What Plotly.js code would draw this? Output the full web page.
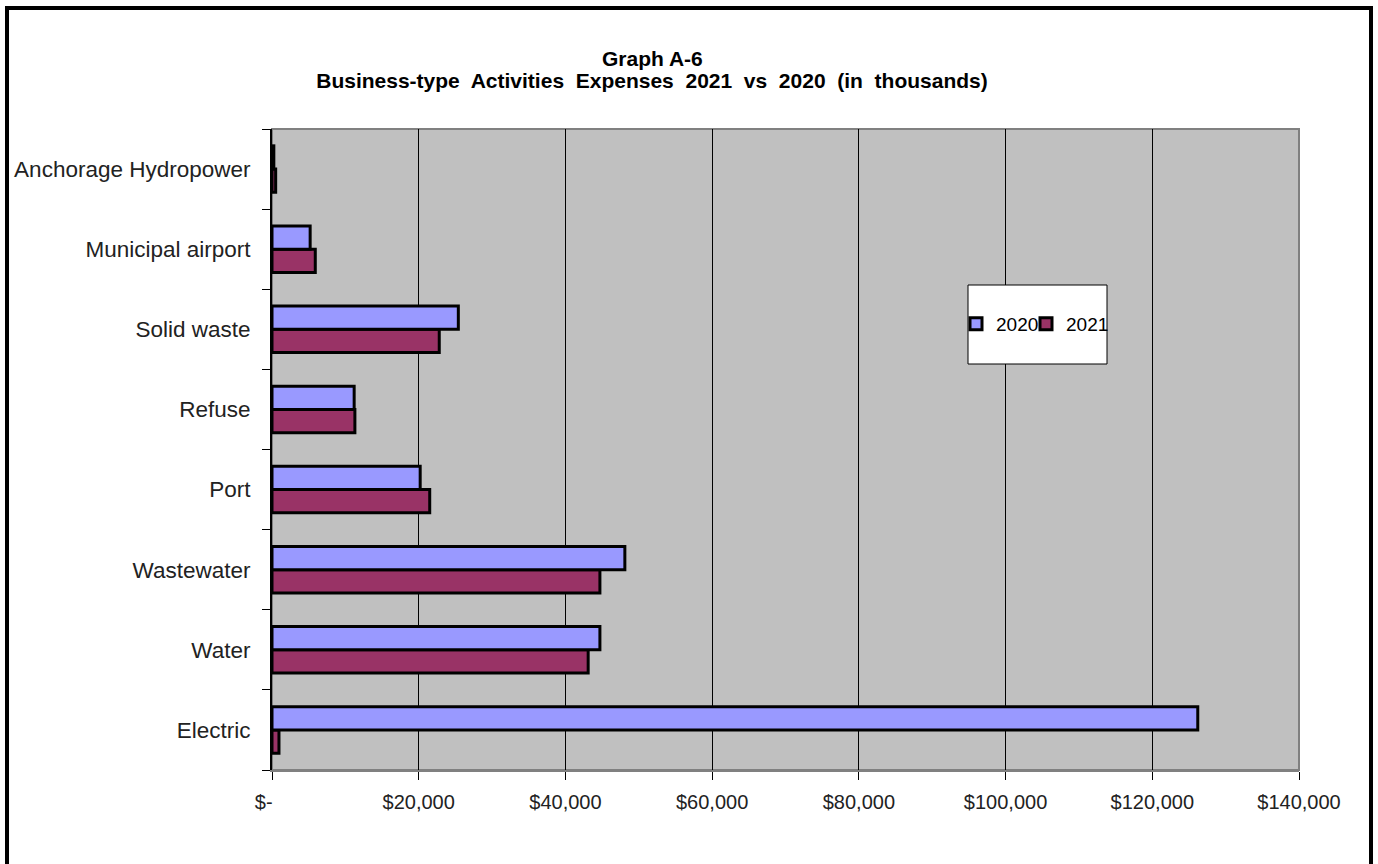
<!DOCTYPE html>
<html>
<head>
<meta charset="utf-8">
<script src="https://cdn.plot.ly/plotly-3.0.1.min.js"></script>
<style>html,body{margin:0;padding:0;background:#fff;}#chart{width:1378px;height:864px;}</style>
</head>
<body>
<div id="chart"></div>
<script>
const categories = ["Electric", "Water", "Wastewater", "Port", "Refuse", "Solid waste", "Municipal airport", "Anchorage Hydropower"];
const values2020 = [126200, 44700, 48100, 20200, 11200, 25400, 5200, 250];
const values2021 = [950, 43100, 44700, 21500, 11300, 22800, 5900, 500];
const tickValues = [0, 20000, 40000, 60000, 80000, 100000, 120000, 140000];
const tickLabels = ["$-\u00a0\u00a0\u00a0", "$20,000", "$40,000", "$60,000", "$80,000", "$100,000", "$120,000", "$140,000"];
const titleLine1 = "Graph A-6";
const titleLine2 = "Business-type  Activities  Expenses  2021  vs  2020  (in  thousands)";

const W = 1378, H = 864;
const L = 272, R = 1299, T = 129, B = 770;
const px = x => (x - L) / (R - L);
const py = y => (B - y) / (B - T);

const font = "Liberation Sans, Arial, sans-serif";

const traces = [
  {
    type: "bar", orientation: "h", name: "2021",
    y: categories, x: values2021,
    marker: {color: "#993366", line: {color: "#000000", width: 3}},
    legend: "legend2"
  },
  {
    type: "bar", orientation: "h", name: "2020",
    y: categories, x: values2020,
    marker: {color: "#9999FF", line: {color: "#000000", width: 3}},
    legend: "legend"
  }
];

const frame = {type: "line", xref: "paper", yref: "paper", line: {color: "#000", width: 4}, layer: "above"};
const legendBase = {
  orientation: "h", xanchor: "left", yanchor: "middle", y: py(324),
  bgcolor: "rgba(0,0,0,0)", borderwidth: 0,
  font: {family: font, size: 19, color: "#000"},
  itemwidth: 30
};

const layout = {
  width: W, height: H,
  margin: {l: L, r: W - R, t: T, b: H - B, pad: 0},
  paper_bgcolor: "#ffffff",
  plot_bgcolor: "#C0C0C0",
  barmode: "group",
  bargap: 0.42,
  bargroupgap: 0,
  showlegend: true,
  title: {
    text: "<b>" + titleLine2 + "</b>",
    font: {family: font, size: 21, color: "#000"},
    x: 652 / W, xanchor: "center", xref: "container",
    y: 1 - 81 / H, yanchor: "middle", yref: "container"
  },
  annotations: [
    {text: "<b>" + titleLine1 + "</b>", xref: "paper", yref: "paper",
     x: px(652), y: py(58), xanchor: "center", yanchor: "middle", showarrow: false,
     font: {family: font, size: 21, color: "#000"}}
  ],
  xaxis: {
    range: [0, 140000],
    tickvals: tickValues, ticktext: tickLabels,
    ticks: "outside", ticklen: 8, tickwidth: 1, tickcolor: "#000",
    showgrid: true, gridcolor: "#000", gridwidth: 1,
    zeroline: false,
    showline: true, linecolor: "#808080", linewidth: 2,
    tickfont: {family: font, size: 20, color: "#222"},
    ticklabelstandoff: 5,
    fixedrange: true
  },
  yaxis: {
    type: "category",
    categoryorder: "array", categoryarray: categories,
    ticks: "outside", ticklen: 8, tickwidth: 1, tickcolor: "#000",
    tickson: "boundaries",
    showgrid: false, zeroline: false,
    showline: true, linecolor: "#000", linewidth: 2,
    tickfont: {family: font, size: 22.5, color: "#222"},
    ticklabelstandoff: 15,
    fixedrange: true
  },
  legend: Object.assign({}, legendBase, {x: px(956)}),
  legend2: Object.assign({}, legendBase, {x: px(1026)}),
  shapes: [
    {type: "rect", xref: "paper", yref: "paper", x0: 0, x1: 1, y0: 0, y1: 1,
     line: {color: "#808080", width: 2}, fillcolor: "rgba(0,0,0,0)", layer: "below"},
    {type: "rect", xref: "paper", yref: "paper",
     x0: px(968), x1: px(1107), y0: py(364), y1: py(285),
     line: {color: "#000", width: 1}, fillcolor: "#ffffff", layer: "above"},
    Object.assign({}, frame, {x0: px(7), x1: px(7), y0: py(8), y1: py(870)}),
    Object.assign({}, frame, {x0: px(5), x1: px(1373), y0: py(8), y1: py(8)}),
    Object.assign({}, frame, {x0: px(1371), x1: px(1371), y0: py(8), y1: py(870)})
  ]
};

Plotly.newPlot("chart", traces, layout, {displayModeBar: false, staticPlot: true});
</script>
</body>
</html>
